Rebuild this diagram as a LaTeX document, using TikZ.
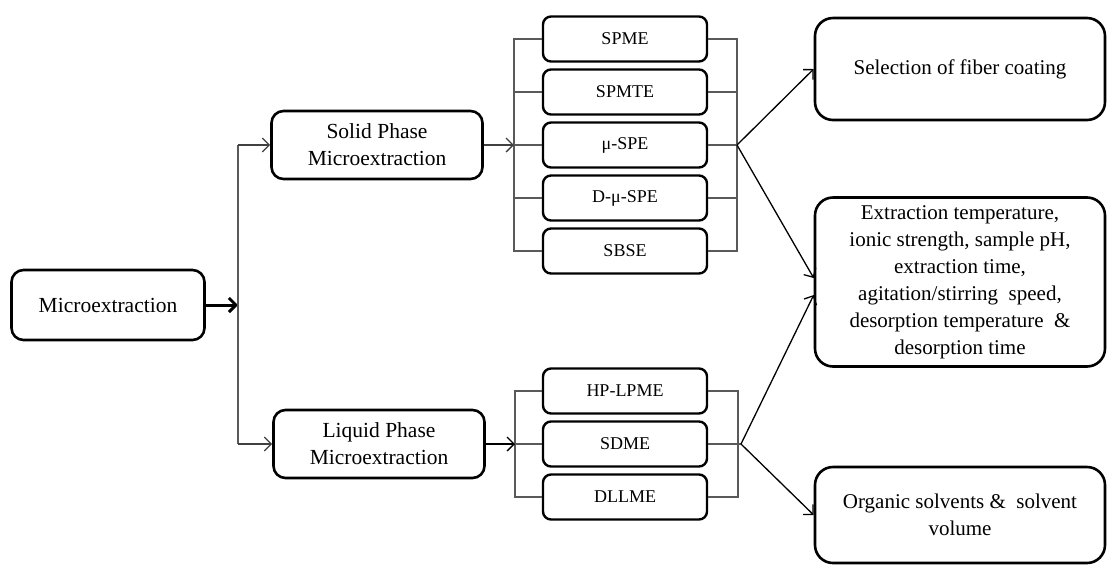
\documentclass[tikz,border=0pt]{standalone}
\usepackage{fontspec}
\setmainfont{Liberation Serif}
\usetikzlibrary{arrows.meta,positioning,calc}
\tikzset{
  mainbox/.style={draw,line width=2.6pt,rounded corners=12pt,minimum width=211pt,
    minimum height=68pt,align=center,font=\fontsize{21.5}{27}\selectfont},
  method/.style={draw,line width=2.4pt,rounded corners=8pt,minimum width=164pt,
    minimum height=45pt,font=\fontsize{18}{22}\selectfont},
  factor/.style={draw,line width=2.6pt,rounded corners=18pt,minimum width=290pt,
    align=center,font=\fontsize{21}{27}\selectfont},
  bus/.style={line width=1.4pt,black!65},
  arrow/.style={-{Straight Barb[length=7pt,width=14pt]},line width=1.3pt}
}

\begin{document}
\begin{tikzpicture}[
  x=1pt,y=-1pt,
  node distance=5.6pt
]
\useasboundingbox (0,0) rectangle (1108,566);

% main branches
\node[mainbox,minimum width=193pt,minimum height=70pt] (micro) at (108,305) {Microextraction};
\node[mainbox] (spm) at (377,145) {Solid Phase\\Microextraction};
\node[mainbox] (lpm) at (379,444) {Liquid Phase\\Microextraction};

% solid phase techniques
\node[method] (spme) at (625,39) {SPME};
\node[method,below=of spme] (spmte) {SPMTE};
\node[method,below=of spmte] (muspe) {μ-SPE};
\node[method,below=of muspe] (dmuspe) {D-μ-SPE};
\node[method,below=of dmuspe] (sbse) {SBSE};

% liquid phase techniques
\node[method] (hplpme) at (625,391) {HP-LPME};
\node[method,below=of hplpme] (sdme) {SDME};
\node[method,below=of sdme] (dllme) {DLLME};

% parameters
\node[factor,minimum height=102pt] (fiber) at (960,69) {Selection of fiber coating};
\node[factor,minimum height=169pt] (cond) at (960,282) {Extraction temperature,\\ionic strength, sample pH,\\extraction time,\\agitation/stirring~ speed,\\desorption temperature~ \&\\desorption time};
\node[factor,minimum height=96pt] (solv) at (960,515) {Organic solvents \&~ solvent\\volume};

\coordinate (split) at (238,305);
\coordinate (sbus) at (514,145);
\coordinate (sbusr) at (737,145);
\coordinate (lbus) at (515,444);
\coordinate (lbusr) at (738,444);

% split
\draw[arrow,line width=3pt] (micro.east) -- (micro.east -| split);
\draw[bus] (spm.west -| split) -- (lpm.west -| split);
\draw[arrow,black!75] (spm.west -| split) -- (spm.west);
\draw[arrow,black!75] (lpm.west -| split) -- (lpm.west);

% solid phase buses
\draw[bus] (spme.west) -| (sbus |- sbse.west) -- (sbse.west);
\draw[bus] (spme.east) -| (sbusr |- sbse.east) -- (sbse.east);
\foreach \n in {spmte,muspe,dmuspe}{
  \draw[bus] (\n.west) -- (\n.west -| sbus);
  \draw[bus] (\n.east) -- (\n.east -| sbusr);
}
\draw[arrow,black!75] (spm.east) -- (sbus);

% liquid phase buses
\draw[bus] (hplpme.west) -| (lbus |- dllme.west) -- (dllme.west);
\draw[bus] (hplpme.east) -| (lbusr |- dllme.east) -- (dllme.east);
\draw[bus] (sdme.west) -- (lbus);
\draw[bus] (sdme.east) -- ($(lbusr)+(3,0)$) coordinate (lfork);
\draw[arrow] (lpm.east) -- (lbus);

% to parameters
\draw[arrow] (sbusr) -- (fiber.west);
\draw[arrow] (sbusr) -- ($(cond.west)+(0,-4)$);
\draw[arrow] (lfork) -- ($(cond.west)+(0,13)$);
\draw[arrow] (lfork) -- (solv.west);
\end{tikzpicture}
\end{document}
